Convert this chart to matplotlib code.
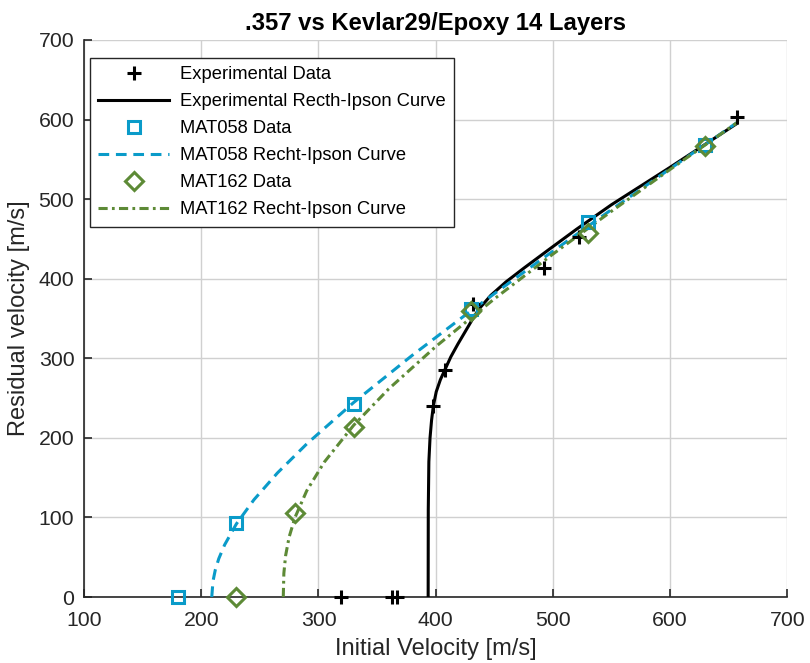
import matplotlib
matplotlib.use("Agg")
import matplotlib.pyplot as plt

plt.rcParams['font.family'] = ['Liberation Sans', 'DejaVu Sans']

# Experimental data
exp_vi = [319, 363, 367, 398, 408, 432, 492, 522, 657]
exp_vr = [0, 0, 0, 240, 285, 368, 413, 452, 603]
# Experimental Recht-Ipson curve
exp_curve_vi = [393.6, 393.7, 394.2, 395.2, 396.5, 398, 400.5, 404, 408, 413, 419, 425, 431,
                437, 447, 460, 475, 496, 520, 550, 600, 657]
exp_curve_vr = [0, 110, 170, 200, 222, 240, 258, 273, 286, 302, 318, 333, 348,
                362, 379, 396, 413, 436, 462, 493, 540, 595]

# MAT058
m58_vi = [180, 230, 330, 430, 530, 630]
m58_vr = [0, 93, 243, 362, 471, 568]
m58_curve_vi = [209, 210, 212, 215, 220, 230, 245, 265, 290, 330, 380, 430, 490, 550, 600, 657]
m58_curve_vr = [0, 19.6, 34.0, 48.3, 65.7, 91.9, 122.3, 155.9, 192.4, 244.4, 303.7, 359.6, 424.1, 486.9, 538.2, 596.1]

# MAT162
m162_vi = [230, 280, 330, 430, 530, 630]
m162_vr = [0, 105, 214, 360, 457, 567]
m162_curve_vi = [270, 270.5, 272, 275, 280, 290, 305, 330, 360, 400, 450, 500, 550, 600, 657]
m162_curve_vr = [0, 29.8, 52.1, 75.4, 100.0, 133.5, 169.6, 215.8, 261.6, 314.6, 374.6, 430.9, 484.8, 537.3, 596.0]

blue = '#0a9bc9'
green = '#5d8a36'
dark = '#262626'

fig = plt.figure(figsize=(8.1, 6.63), dpi=100)
ax = fig.add_axes([0.1037, 0.0995, 0.8683, 0.8402])

ax.plot(exp_vi, exp_vr, linestyle='none', marker='+', color='black',
        markersize=10, markeredgewidth=2.2, label='Experimental Data', zorder=5, clip_on=False)
ax.plot(exp_curve_vi, exp_curve_vr, color='black', linewidth=2.2,
        label='Experimental Recth-Ipson Curve', zorder=4)
ax.plot(m58_vi, m58_vr, linestyle='none', marker='s', color=blue, markerfacecolor='none',
        markersize=9, markeredgewidth=2.2, label='MAT058 Data', zorder=5, clip_on=False)
ax.plot(m58_curve_vi, m58_curve_vr, color=blue, linewidth=2.2, linestyle=(0, (3.5, 2.2)),
        label='MAT058 Recht-Ipson Curve', zorder=4)
ax.plot(m162_vi, m162_vr, linestyle='none', marker='D', color=green, markerfacecolor='none',
        markersize=9, markeredgewidth=2.2, label='MAT162 Data', zorder=5, clip_on=False)
ax.plot(m162_curve_vi, m162_curve_vr, color=green, linewidth=2.2,
        linestyle=(0, (3, 1.4, 0.9, 1.4)), label='MAT162 Recht-Ipson Curve', zorder=4)

ax.set_xlim(100, 700)
ax.set_ylim(0, 700)
ax.set_xticks(range(100, 701, 100))
ax.set_yticks(range(0, 701, 100))
ax.grid(True, color='#d0d0d0', linewidth=1)
ax.set_axisbelow(True)
for s in ['top', 'right']:
    ax.spines[s].set_visible(False)
for s in ['left', 'bottom']:
    ax.spines[s].set_color(dark)
    ax.spines[s].set_linewidth(1.2)
ax.tick_params(direction='in', length=6, width=1.2, colors=dark, labelsize=15.3)
ax.tick_params(axis='x', pad=10)
ax.tick_params(axis='y', pad=7)

ax.set_xlabel('Initial Velocity [m/s]', fontsize=17, color=dark, labelpad=6)
ax.set_ylabel('Residual velocity [m/s]', fontsize=17, color=dark, labelpad=6)
ax.set_title('.357 vs Kevlar29/Epoxy 14 Layers', fontsize=17.2, fontweight='bold', pad=7)

leg = ax.legend(loc='upper left', bbox_to_anchor=(0.008, 0.968), fontsize=13.2,
                frameon=True, fancybox=False, edgecolor=dark, framealpha=1,
                handlelength=3.9, handletextpad=0.6, borderpad=0.45, labelspacing=0.55,
                borderaxespad=0)
leg.get_frame().set_linewidth(1.0)

fig.savefig('out.png', dpi=100)
